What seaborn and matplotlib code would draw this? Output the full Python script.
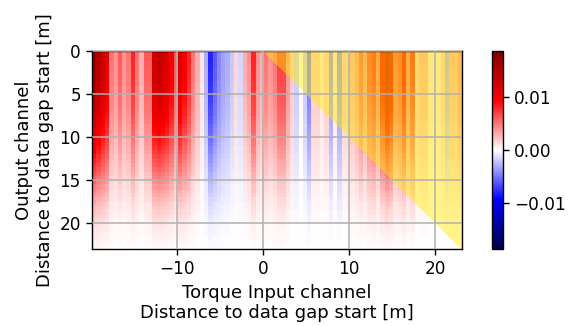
import numpy as np
import matplotlib
matplotlib.use("Agg")
import matplotlib.pyplot as plt
import seaborn as sns

# ---- data ----
x_start = -19.9          # left edge of first column [m]
x_end = 23.05            # right axis limit [m]
y_end = 23.0             # bottom axis limit [m]
cell = 0.5               # column / row width [m]

# amplitude of each 0.5 m input column at the top row
column_amplitude = [
    0.017, 0.015, 0.013, 0.011, 0.005, 0.004, 0.006, 0.004, 0.005, 0.008,
    0.005, 0.003, 0.006, 0.006, 0.013, 0.014, 0.013, 0.012, 0.010, 0.006,
    0.012, 0.010, 0.008, 0.005, 0.003, 0.001, -0.003, -0.008, -0.006, -0.0045,
    -0.0035, -0.003, -0.002, 0.0015, -0.0015, 0.003, 0.004, 0.008, 0.004, 0.003,
    0.005, 0.004, 0.005, 0.007, 0.007, 0.004, 0.002, -0.002, 0.000, -0.002,
    -0.005, 0.002, 0.002, 0.001, 0.002, -0.004, 0.001, -0.004, 0.002, 0.002,
    0.003, 0.004, 0.006, 0.004, 0.007, 0.008, 0.005, 0.010, 0.013, 0.011,
    0.006, 0.007, 0.010, 0.005, 0.008, 0.002, 0.003, 0.003, 0.001, 0.001,
    0.001, 0.002, -0.003, 0.003, 0.003, 0.004,
]

# relative strength of each 0.5 m output row (top to bottom)
depth_decay = [
    1.00, 1.00, 0.99, 0.98, 0.97, 0.96, 0.95, 0.94, 0.92, 0.91,
    0.89, 0.87, 0.85, 0.83, 0.81, 0.78, 0.76, 0.73, 0.70, 0.67,
    0.64, 0.61, 0.58, 0.55, 0.51, 0.48, 0.45, 0.42, 0.38, 0.35,
    0.32, 0.29, 0.26, 0.23, 0.20, 0.17, 0.15, 0.13, 0.11, 0.09,
    0.07, 0.06, 0.05, 0.04, 0.03, 0.02,
]

x_ticks = [-10, 0, 10, 20]
y_ticks = [0, 5, 10, 15, 20]
cbar_ticks = [-0.01, 0.0, 0.01]
v_lim = 0.0187
x_label = "Torque Input channel\nDistance to data gap start [m]"
y_label = "Output channel\nDistance to data gap start [m]"

matrix = np.outer(depth_decay, column_amplitude)


def cx(v):
    return (v - x_start) / cell


def ry(v):
    return v / cell


def fmt(v):
    return f"{v:d}".replace("-", "\u2212")


plt.rcParams["font.family"] = ["DejaVu Sans"]

fig = plt.figure(figsize=(5.7, 3.26), dpi=100)
ax = fig.add_axes([0.1614, 0.2362, 0.6486, 0.6074])
cax = fig.add_axes([0.864, 0.2362, 0.0188, 0.6074])

sns.heatmap(matrix, ax=ax, cbar_ax=cax, cmap="seismic",
            vmin=-v_lim, vmax=v_lim,
            xticklabels=False, yticklabels=False,
            cbar_kws={"ticks": cbar_ticks})

# semi transparent triangle where input distance exceeds output distance
ax.fill([cx(0), cx(x_end), cx(x_end), cx(y_end)],
        [ry(0), ry(0), ry(y_end), ry(y_end)],
        color=(1.0, 0.93, 0.0), alpha=0.45, lw=0, zorder=2)

ax.set_xlim(0, cx(x_end))
ax.set_ylim(ry(y_end), 0)
ax.set_xticks([cx(v) for v in x_ticks])
ax.set_xticklabels([fmt(v) for v in x_ticks], rotation=0)
ax.set_yticks([ry(v) for v in y_ticks])
ax.set_yticklabels([fmt(v) for v in y_ticks], rotation=0)

for s in ax.spines.values():
    s.set_visible(True)
    s.set_color("black")
    s.set_linewidth(1.0)

ax.tick_params(direction="out", length=4.5, width=1, labelsize=12.2,
               colors="black", bottom=True, left=True)
ax.grid(True, color="#b0b0b0", lw=1.1)
ax.set_axisbelow(False)

ax.set_xlabel(x_label, fontsize=13, color="black")
ax.set_ylabel(y_label, fontsize=13, color="black")

cb = ax.collections[0].colorbar
cb.outline.set_linewidth(1.0)
cb.outline.set_edgecolor("black")
cb.ax.tick_params(labelsize=12.2, length=4.5, width=1, colors="black")

fig.savefig("out.png", dpi=100)
